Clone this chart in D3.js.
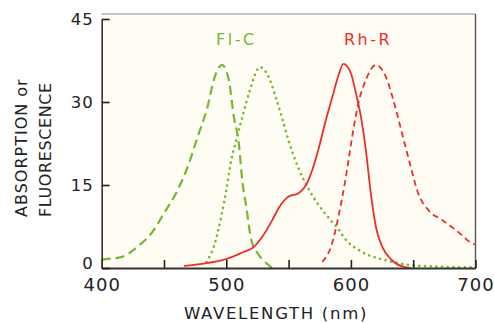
<!DOCTYPE html>
<html><head><meta charset="utf-8">
<script src="https://cdn.jsdelivr.net/npm/d3@7"></script>
<style>
html,body{margin:0;padding:0;background:#fff;}
svg{display:block;font-family:"DejaVu Sans",sans-serif;}
</style></head>
<body><svg id="c" width="494" height="323"></svg>
<script>
// Data
const xTicks = [400, 450, 500, 550, 600, 650, 700];
const yTicks = [0, 15, 30, 45];

const flcAbsX = [400,407,416,429,440,450,461,469,477,485,490,496.5,502,506,510,513,516,520,525,532,537];
const flcAbsY = [1.5,1.7,2,3.9,6.3,9.9,14.1,18.3,23.7,29.2,34,36.7,34,27.4,22.6,15.4,11.1,5.1,2.7,0.9,0];

const flcEmX = [484,490,496,500,504,508,513,519,527,535,540,545,550,558,566,574,582,590,596,609,628,649,676,700];
const flcEmY = [1.1,3.9,9.3,14.1,19.5,23.1,27.4,32.2,36.3,34,30.6,26.9,23.0,18.0,14.3,11.4,9.1,7,5.1,2.9,1.4,0.5,0.2,0.1];

const rhAbsX = [466,482,501,514,521,529,537,542,550,558,564,569,574,580,585,590,594,600,604,608,612,616,620,625,633,644,648];
const rhAbsY = [0.4,0.8,1.7,2.9,3.6,5.7,8.7,10.8,12.9,13.5,15,17.7,21.5,26.8,30.8,34.8,36.9,35.2,31.6,27.4,21.3,13.5,7.5,3.9,1.4,0.1,0];

const rhEmX = [577,585,590,596,601,606,612,620,628,634,641,648,654,662,673,684,697,700];
const rhEmY = [1.1,4.5,9.3,16.5,23.7,29.8,34,36.7,34.6,30.4,24.4,18.3,13.5,10.5,8.7,6.9,4.5,4.2];

const GREEN = "#74b832", RED = "#e8302a";

const svg = d3.select("#c");
const L = 101.7, R = 475.5, T = 14, B = 268;
const x = d3.scaleLinear().domain([400, 700]).range([L, R]);
const y = d3.scaleLinear().domain([0, 45]).range([B, 19]);

// plot background
svg.append("rect").attr("x", L).attr("y", T).attr("width", R - L).attr("height", B - T)
  .attr("fill", "#fffcf3");
// top and right frame
svg.append("line").attr("x1", L).attr("x2", R).attr("y1", T).attr("y2", T).attr("stroke", "#8a8a8a").attr("stroke-width", 1.2);
svg.append("line").attr("x1", R).attr("x2", R).attr("y1", T).attr("y2", B).attr("stroke", "#555").attr("stroke-width", 1.4);

const line = d3.line().x(d => x(d[0])).y(d => y(d[1])).curve(d3.curveMonotoneX);
function series(xs, ys, color, dash, width, cap) {
  svg.append("path").datum(xs.map((v, i) => [v, ys[i]]))
    .attr("d", line).attr("fill", "none").attr("stroke", color)
    .attr("stroke-width", width).attr("stroke-dasharray", dash)
    .attr("stroke-linecap", cap || "butt");
}
series(flcEmX, flcEmY, GREEN, "0.1 5.6", 2.6, "round");
series(flcAbsX, flcAbsY, GREEN, "9 5", 2.2);
series(rhEmX, rhEmY, RED, "6 4", 1.8);
series(rhAbsX, rhAbsY, RED, null, 1.8);

// axes
const xAxis = svg.append("g").attr("transform", `translate(0,${B})`)
  .call(d3.axisBottom(x).tickValues(xTicks).tickSize(-8).tickSizeOuter(0)
    .tickFormat(d => d % 100 === 0 ? d : ""));
xAxis.select(".domain").attr("stroke", "#333").attr("stroke-width", 1.8);
xAxis.selectAll(".tick line").attr("stroke", "#222").attr("stroke-width", 1.6);
xAxis.selectAll(".tick text").attr("y", 23).attr("dy", 0)
  .attr("font-size", 18).attr("fill", "#222").attr("letter-spacing", 1)
  .attr("font-family", "DejaVu Sans, sans-serif");

const yAxis = svg.append("g").attr("transform", `translate(${L},0)`)
  .call(d3.axisLeft(y).tickValues(yTicks).tickSize(-8).tickSizeOuter(0));
yAxis.select(".domain").attr("stroke", "#333").attr("stroke-width", 1.6);
yAxis.selectAll(".tick line").attr("stroke", "#222").attr("stroke-width", 1.6);
yAxis.selectAll(".tick text").attr("x", -8).attr("dy", d => d === 0 ? "0.05em" : "0.36em")
  .attr("font-size", 16.5).attr("fill", "#222").attr("letter-spacing", 1)
  .attr("font-family", "DejaVu Sans, sans-serif");

// curve labels
svg.append("text").attr("x", 216).attr("y", 45).attr("fill", GREEN)
  .attr("font-size", 16).attr("letter-spacing", 2.5).text("Fl-C");
svg.append("text").attr("x", 344).attr("y", 45).attr("fill", RED)
  .attr("font-size", 16).attr("letter-spacing", 2.5).text("Rh-R");

// axis titles
svg.append("text").attr("x", 276).attr("y", 319).attr("text-anchor", "middle")
  .attr("font-size", 16.5).attr("fill", "#222").attr("letter-spacing", 1.7)
  .text("WAVELENGTH (nm)");
svg.append("text").attr("transform", "translate(27,217) rotate(-90)")
  .attr("font-size", 16).attr("fill", "#222").attr("letter-spacing", 1)
  .text("ABSORPTION or");
svg.append("text").attr("transform", "translate(51,217) rotate(-90)")
  .attr("font-size", 16).attr("fill", "#222").attr("letter-spacing", 0.6)
  .text("FLUORESCENCE");
</script></body></html>
